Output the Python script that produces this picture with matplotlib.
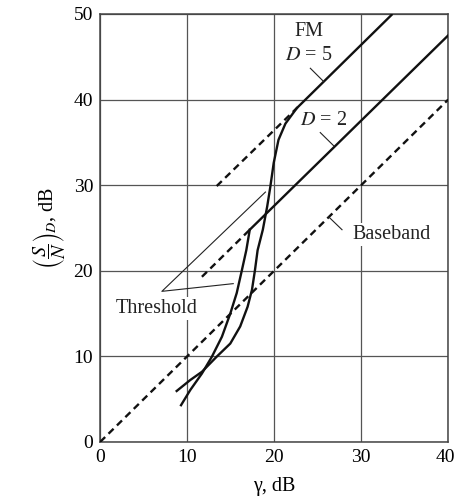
import matplotlib
matplotlib.use("Agg")
import matplotlib.pyplot as plt
from matplotlib.transforms import ScaledTranslation

plt.rcParams["font.family"] = ["Liberation Serif", "DejaVu Serif"]
plt.rcParams["mathtext.fontset"] = "stix"

# gamma (dB) grid values
baseband_x = [0, 40]
baseband_y = [0, 40]

# D = 2: dashed extension below threshold, solid above
d2_dash_x = [11.7, 17.2]
d2_dash_y = [19.3, 24.8]
d2_line_x = [17.2, 40]
d2_line_y = [24.8, 47.5]
d2_thr_x = [9.3, 10.36, 11.7, 12.85, 14.0, 14.96, 15.7, 16.3, 16.8, 17.2]
d2_thr_y = [4.3, 6.07, 8.0, 9.97, 12.3, 15.0, 17.4, 20.1, 22.4, 24.8]

# D = 5
d5_dash_x = [13.4, 22.6]
d5_dash_y = [29.9, 39.0]
d5_line_x = [22.6, 33.6]
d5_line_y = [39.0, 50.0]
d5_thr_x = [8.8, 10.36, 11.7, 13.4, 14.96, 16.1, 16.95, 17.45, 17.8, 18.1,
            18.4, 18.7, 19.2, 19.56, 19.95, 20.5, 21.3, 22.6]
d5_thr_y = [5.96, 7.24, 8.2, 9.97, 11.5, 13.5, 15.8, 17.76, 20.1, 22.4,
            23.6, 24.8, 27.5, 29.8, 32.6, 35.3, 37.2, 39.0]

fig = plt.figure(figsize=(4.55, 5.0), dpi=100)
ax = fig.add_axes([0.22, 0.116, 0.765, 0.856])

ax.set_xlim(0, 40)
ax.set_ylim(0, 50)
ax.set_xticks([0, 10, 20, 30, 40])
ax.set_yticks([0, 10, 20, 30, 40, 50])
ax.tick_params(length=0, labelsize=14, pad=5)
ax.set_axisbelow(True)
ax.grid(True, color="#555555", linewidth=0.9)
for s in ax.spines.values():
    s.set_color("#444444")
    s.set_linewidth(1.1)

# keep the last x tick label inside the canvas
last = ax.get_xticklabels()[-1]
last.set_horizontalalignment("right")
last.set_transform(last.get_transform() + ScaledTranslation(5 / 72, 0, fig.dpi_scale_trans))

lw = 1.7
dash = (0, (3.0, 2.0))
ax.plot(baseband_x, baseband_y, color="#111111", lw=lw, linestyle=dash, zorder=3)
ax.plot(d2_dash_x, d2_dash_y, color="#111111", lw=lw, linestyle=dash, zorder=3)
ax.plot(d5_dash_x, d5_dash_y, color="#111111", lw=lw, linestyle=dash, zorder=3)
ax.plot(d2_line_x, d2_line_y, color="#111111", lw=lw, zorder=3)
ax.plot(d5_line_x, d5_line_y, color="#111111", lw=lw, zorder=3, solid_capstyle="butt")
ax.plot(d2_thr_x, d2_thr_y, color="#111111", lw=lw, zorder=3)
ax.plot(d5_thr_x, d5_thr_y, color="#111111", lw=lw, zorder=3)

# annotations
fs = 14.5
ax.text(24.0, 48.0, "FM", ha="center", va="center", fontsize=fs, color="#222222")
ax.text(24.0, 45.1, r"$D$ = 5", ha="center", va="center", fontsize=fs, color="#222222")
ax.text(25.7, 37.6, r"$D$ = 2", ha="center", va="center", fontsize=fs, color="#222222")
ax.text(33.55, 24.2, "Baseband", ha="center", va="center", fontsize=fs, color="#222222",
        bbox=dict(fc="white", ec="none", pad=1.5), zorder=2)
ax.text(6.5, 15.6, "Threshold", ha="center", va="center", fontsize=fs, color="#222222",
        bbox=dict(fc="white", ec="none", pad=1.5), zorder=2)

thin = 0.8
ax.plot([24.16, 25.7], [43.66, 42.1], color="#222222", lw=thin, zorder=3)
ax.plot([25.3, 26.85], [36.15, 34.6], color="#222222", lw=thin, zorder=3)
ax.plot([26.27, 27.8], [26.3, 24.8], color="#222222", lw=thin, zorder=3)
ax.plot([19.0, 7.1, 15.3], [29.2, 17.6, 18.5], color="#222222", lw=thin, zorder=3)

ax.set_xlabel("γ, dB", fontsize=14.5, labelpad=8)
ax.set_ylabel(r"$\left(\dfrac{S}{N}\right)_D$, dB", fontsize=14.5, labelpad=4)

fig.savefig("out.png", dpi=100)
